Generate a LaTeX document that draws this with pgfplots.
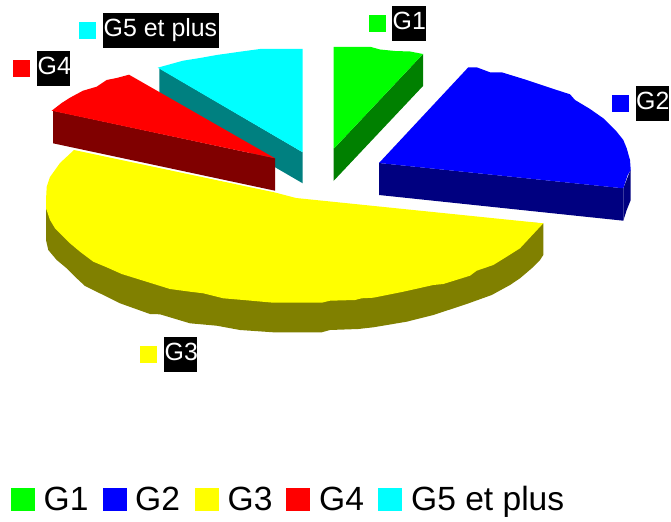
\documentclass[border=0pt]{standalone}
\usepackage{pgfplots}
\pgfplotsset{compat=1.18}
\usepackage{fontspec}
\setmainfont{Liberation Sans}
\definecolor{gA}{RGB}{0,255,0}
\definecolor{gAd}{RGB}{0,128,0}
\definecolor{gB}{RGB}{0,0,255}
\definecolor{gBd}{RGB}{0,0,128}
\definecolor{gC}{RGB}{255,255,0}
\definecolor{gCd}{RGB}{128,128,0}
\definecolor{gD}{RGB}{255,0,0}
\definecolor{gDd}{RGB}{128,0,0}
\definecolor{gE}{RGB}{0,255,255}
\definecolor{gEd}{RGB}{0,128,128}
\newcommand{\slicelabel}{\fontsize{25}{25}\selectfont\color{white}}
\newcommand{\legendlabel}{\fontsize{33.7}{33.7}\selectfont\color{black}}
\begin{document}
\begin{tikzpicture}
\begin{axis}[
  scale only axis, width=671bp, height=522bp,
  xmin=0, xmax=671, ymin=0, ymax=522, y dir=reverse,
  hide axis, clip=true,
  every axis plot/.append style={line width=0pt, forget plot},
]
% page background
\addplot[fill=white, draw=none] coordinates {(0,0) (671,0) (671,522) (0,522)} -- cycle;

% G5 et plus
\addplot[fill=gEd, draw=none] coordinates {(159.3,68.3) (302.7,152.3) (302.7,183.3) (159.3,100)} -- cycle;
\addplot[fill=gE, draw=none] coordinates {(157.7,67.7) (183,60.7) (200,58) (216.7,55) (240,51.7) (260,49) (302.7,49) (302.7,152.3)} -- cycle;

% G4
\addplot[fill=gDd, draw=none] coordinates {(53,110.7) (275,158.3) (275,190.7) (53,143.3)} -- cycle;
\addplot[fill=gD, draw=none] coordinates {(51.7,110.7) (61.7,103) (70,97.7) (83,90.7) (96.7,86.7) (106.7,80) (116.7,78) (129,74.7) (275,158.3)} -- cycle;

% G1
\addplot[fill=gAd, draw=none] coordinates {(423,54) (423,86) (333.5,181) (333.5,149)} -- cycle;
\addplot[fill=gA, draw=none] coordinates {(333.5,47) (371,47) (380,49.5) (395,51) (410,51.5) (423,54) (333.5,149)} -- cycle;

% G2
\addplot[fill=gBd, draw=none] coordinates {(379,163) (623.3,188.3) (623.3,220.7) (379,195)} -- cycle;
\addplot[fill=gBd, draw=none] coordinates {(623.3,188.3) (630.7,169.3) (630.7,200) (626.7,210) (623.3,220.7)} -- cycle;
\addplot[fill=gB, draw=none] coordinates {(379,163) (468.3,67.3) (476.7,67.3) (490,72.3) (501.7,72.3) (526.7,80) (556.7,90) (570,94.3) (575,100) (590,109) (603.3,118.3) (608.3,123.3) (616.7,131.7) (623.3,140) (626.7,148.3) (630,160) (630.7,170) (627.7,175) (623.3,188.3)} -- cycle;

% G3
\addplot[fill=gCd, draw=none] coordinates {(543.3,223.3) (543.3,255) (540,260) (531.7,268.3) (520,278.3) (510,285) (491.7,295) (466.7,304) (433.3,315) (406.7,321.7) (373.3,327.3) (358.3,329) (330,330) (321.7,332.3) (273.3,332.3) (240,330) (216.7,325.7) (190,323.3) (160,314.3) (150,314) (120,303.3) (103.3,295) (85,286) (75,276.7) (66.7,268.3) (56.7,260) (48.3,250) (46,240) (46,200)} -- cycle;
\addplot[fill=gC, draw=none] coordinates {(543.3,223.3) (520,248.3) (506.7,256.7) (493.3,265) (476.7,270.7) (470,275.7) (443.3,284) (433.3,285) (403.3,291.7) (373.3,297.7) (361.7,298.3) (355,300) (330,300.7) (321.7,302.7) (273.3,302.7) (243.3,300) (223.3,298.3) (203.3,293.3) (190,291.7) (170,289) (143.3,280.7) (121.7,274) (106.7,267.3) (93.3,261.7) (80,251.7) (70,243.3) (61.7,235) (55,228.3) (50,220) (46,208.3) (46,200) (46.7,186.7) (50,177) (60,163) (74,150) (275,192.5) (296,198)} -- cycle;

% slice labels: swatch and black plate behind the text
\addplot[fill=gA, draw=none] coordinates {(369,15) (386,15) (386,32) (369,32)} -- cycle;
\addplot[fill=black, draw=none] coordinates {(392,6) (425.7,6) (425.7,40.7) (392,40.7)} -- cycle;
\node[anchor=base west, inner sep=0pt] at (axis cs:392.5,29.5) {\slicelabel G1};

\addplot[fill=gB, draw=none] coordinates {(612,95) (629,95) (629,112) (612,112)} -- cycle;
\addplot[fill=black, draw=none] coordinates {(636,86) (668.5,86) (668.5,121) (636,121)} -- cycle;
\node[anchor=base west, inner sep=0pt] at (axis cs:636,109.5) {\slicelabel G2};

\addplot[fill=gC, draw=none] coordinates {(140,346) (157.3,346) (157.3,363) (140,363)} -- cycle;
\addplot[fill=black, draw=none] coordinates {(164,337) (197,337) (197,371.7) (164,371.7)} -- cycle;
\node[anchor=base west, inner sep=0pt] at (axis cs:164.5,360.5) {\slicelabel G3};

\addplot[fill=gD, draw=none] coordinates {(13,60) (30,60) (30,77) (13,77)} -- cycle;
\addplot[fill=black, draw=none] coordinates {(37,51) (70,51) (70,86) (37,86)} -- cycle;
\node[anchor=base west, inner sep=0pt] at (axis cs:37.5,74.5) {\slicelabel G4};

\addplot[fill=gE, draw=none] coordinates {(79,22) (96,22) (96,39) (79,39)} -- cycle;
\addplot[fill=black, draw=none] coordinates {(103,13) (219,13) (219,47.7) (103,47.7)} -- cycle;
\node[anchor=base west, inner sep=0pt] at (axis cs:103.5,36.5) {\slicelabel G5 et plus};

% legend row along the bottom edge
\addplot[fill=gA, draw=none] coordinates {(11,488) (35,488) (35,511) (11,511)} -- cycle;
\node[anchor=base west, inner sep=0pt] at (axis cs:43.5,510.5) {\legendlabel G1};
\addplot[fill=gB, draw=none] coordinates {(103,488) (127,488) (127,511) (103,511)} -- cycle;
\node[anchor=base west, inner sep=0pt] at (axis cs:135,510.5) {\legendlabel G2};
\addplot[fill=gC, draw=none] coordinates {(195,488) (219,488) (219,511) (195,511)} -- cycle;
\node[anchor=base west, inner sep=0pt] at (axis cs:227.5,510.5) {\legendlabel G3};
\addplot[fill=gD, draw=none] coordinates {(286,488) (310,488) (310,511) (286,511)} -- cycle;
\node[anchor=base west, inner sep=0pt] at (axis cs:319,510.5) {\legendlabel G4};
\addplot[fill=gE, draw=none] coordinates {(378,488) (402,488) (402,511) (378,511)} -- cycle;
\node[anchor=base west, inner sep=0pt] at (axis cs:411,510.5) {\legendlabel G5 et plus};
\end{axis}
\end{tikzpicture}
\end{document}
